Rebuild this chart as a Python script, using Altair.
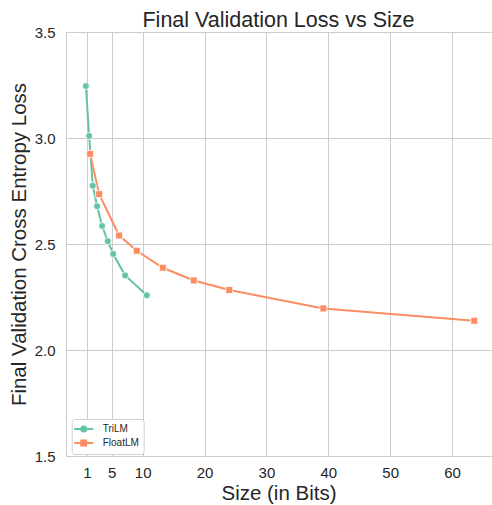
import altair as alt
import pandas as pd

# ---- data ----
tri_size = [0.81, 1.34, 1.93, 2.63, 3.44, 4.36, 5.22, 7.16, 10.66]
tri_loss = [3.245, 3.010, 2.775, 2.678, 2.585, 2.513, 2.453, 2.352, 2.258]
float_size = [1.50, 2.96, 6.19, 9.04, 13.25, 18.25, 24.0, 39.2, 63.6]
float_loss = [2.925, 2.735, 2.540, 2.468, 2.388, 2.328, 2.283, 2.196, 2.138]
models = ["TriLM", "FloatLM"]
colors = ["#66c2a5", "#fc8d62"]
x_ticks = [1, 5, 10, 20, 30, 40, 50, 60]
y_ticks = [1.5, 2.0, 2.5, 3.0, 3.5]

rows = []
for s, l in zip(tri_size, tri_loss):
    rows.append({"model": "TriLM", "size": s, "loss": l})
for s, l in zip(float_size, float_loss):
    rows.append({"model": "FloatLM", "size": s, "loss": l})
df = pd.DataFrame(rows)

FONT = "Liberation Sans"
TXT = "#262626"

x_enc = alt.X("size:Q", title="Size (in Bits)",
              scale=alt.Scale(domain=[-2.4, 66.3], nice=False, zero=False),
              axis=alt.Axis(values=x_ticks, labelFontSize=15, titleFontSize=20.5,
                            labelPadding=9, titlePadding=3, ticks=False,
                            domainColor="#cccccc", gridColor="#cccccc",
                            labelColor=TXT, titleColor=TXT, labelFont=FONT,
                            titleFont=FONT, titleFontWeight="normal",
                            labelFlush=False))
y_enc = alt.Y("loss:Q", title="Final Validation Cross Entropy Loss",
              scale=alt.Scale(domain=[1.5, 3.5], nice=False, zero=False),
              axis=alt.Axis(values=y_ticks, format=".1f", labelFontSize=15,
                            titleFontSize=20.5, labelPadding=11, titlePadding=5,
                            ticks=False, domainColor="#cccccc",
                            gridColor="#cccccc", labelColor=TXT,
                            titleColor=TXT, labelFont=FONT, titleFont=FONT,
                            titleFontWeight="normal", labelFlush=False))

base = alt.Chart(df)

lines = base.mark_line(strokeWidth=2).encode(
    x=x_enc, y=y_enc,
    color=alt.Color("model:N", scale=alt.Scale(domain=models, range=colors),
                    legend=None),
    detail="model:N",
)

points = base.mark_point(filled=True, opacity=1, stroke="white",
                         strokeWidth=0.8, size=48).encode(
    x="size:Q", y="loss:Q",
    color=alt.Color("model:N", scale=alt.Scale(domain=models, range=colors),
                    legend=None),
    shape=alt.Shape("model:N",
                    scale=alt.Scale(domain=models, range=["circle", "square"]),
                    legend=None),
)

# legend-only layer (no marks drawn): line + marker symbols, stroked
circ_path = ("M-1.9,0H1.9"
             "M0.5,0A0.5,0.5 0 1,1 -0.5,0A0.5,0.5 0 1,1 0.5,0Z"
             "M0.2,0A0.2,0.2 0 1,1 -0.2,0A0.2,0.2 0 1,1 0.2,0Z")
sq_path = ("M-1.9,0H1.9"
           "M-0.5,-0.5H0.5V0.5H-0.5Z"
           "M-0.2,-0.2H0.2V0.2H-0.2Z")
legend_layer = base.mark_point(filled=False, strokeWidth=2, opacity=1).encode(
    x="size:Q", y="loss:Q",
    color=alt.Color("model:N", scale=alt.Scale(domain=models, range=colors),
                    title=None,
                    legend=alt.Legend(orient="none", legendX=5.7, legendY=387,
                                      title=None)),
    shape=alt.Shape("model:N",
                    scale=alt.Scale(domain=models, range=[circ_path, sq_path]),
                    title=None,
                    legend=alt.Legend(orient="none", legendX=5.7, legendY=387,
                                      title=None)),
).transform_filter("false")

chart = alt.layer(lines, points, legend_layer).resolve_scale(
    shape="independent", color="independent"
).properties(
    width=425, height=424,
    title=alt.TitleParams("Final Validation Loss vs Size", fontSize=21.5,
                          font=FONT, fontWeight="normal", color=TXT, offset=-6),
    padding={"left": 66, "top": 32, "right": 1, "bottom": 49},
    autosize=alt.AutoSizeParams(type="none"),
).configure_view(stroke=None).configure_legend(
    labelFont=FONT, labelFontSize=10, labelColor=TXT,
    symbolSize=100, symbolStrokeWidth=2, symbolOpacity=1,
    fillColor="white", strokeColor="#d0d0d0", cornerRadius=3,
    padding=4, rowPadding=0, labelOffset=13, symbolOffset=2,
)

chart.save("out.html", embed_options={"renderer": "svg", "actions": False})
